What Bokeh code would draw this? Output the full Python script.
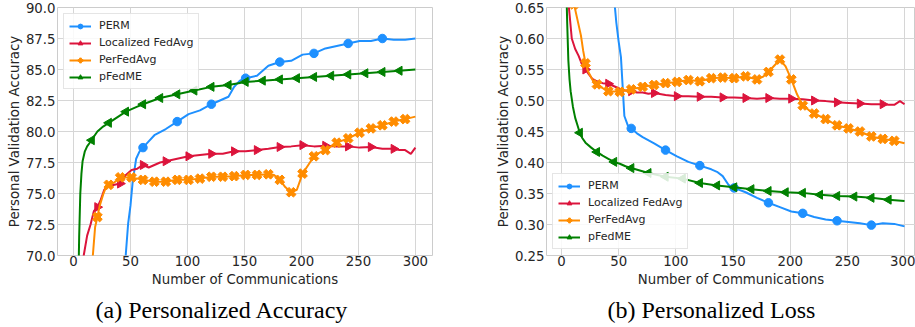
import math
from bokeh.plotting import figure
from bokeh.layouts import row
from bokeh.models import FixedTicker, NumeralTickFormatter, Title, Range1d
from bokeh.embed import file_html
from bokeh.resources import INLINE

# ---------------- data ----------------
X_PERM = [1, 11, 21, 31, 41, 44, 46, 48, 50, 52, 55, 58, 61, 66, 71, 81, 91, 101, 111, 121,
          131, 136, 141, 146, 151, 161, 171, 181, 191, 201, 211, 221, 231, 241, 251, 261, 271, 281, 291, 300]
ACC_PERM = [10.0, 25.0, 40.0, 52.0, 62.0, 67.0, 70.2, 72.6, 74.0, 76.0, 77.8, 78.4, 78.7, 79.2, 79.7, 80.2, 80.8, 81.4, 81.7, 82.2,
            82.6, 82.8, 83.6, 84.1, 84.3, 84.5, 85.3, 85.6, 85.7, 86.2, 86.3, 86.7, 86.9, 87.1, 87.3, 87.3, 87.5, 87.4, 87.4, 87.5]
LOSS_PERM = [2.3, 1.9, 1.5, 1.2, 0.9, 0.75, 0.665, 0.625, 0.595, 0.57, 0.475, 0.46, 0.455, 0.447, 0.441, 0.431, 0.42, 0.41, 0.401, 0.395,
             0.389, 0.385, 0.378, 0.364, 0.359, 0.352, 0.343, 0.335, 0.328, 0.321, 0.318, 0.312, 0.308, 0.306, 0.304, 0.302, 0.299, 0.302, 0.301, 0.297]

X_LFA = [1, 5, 9, 12, 15, 18, 21, 24, 27, 31, 36, 41, 46, 51, 56, 61, 66, 71, 76, 81, 91, 101, 111, 121,
         131, 141, 151, 161, 171, 181, 191, 201, 211, 221, 231, 241, 251, 261, 271, 281, 286, 291, 296, 300]
ACC_LFA = [40.0, 60.0, 70.0, 71.6, 72.5, 73.6, 73.9, 74.5, 75.3, 75.6, 75.7, 75.8, 76.5, 76.9, 77.0, 77.3, 77.1, 77.3, 77.5, 77.6,
           77.8, 78.0, 78.1, 78.2, 78.2, 78.4, 78.4, 78.5, 78.6, 78.75, 78.8, 78.9, 78.8, 78.85, 78.8, 78.8, 78.7, 78.75, 78.6, 78.6,
           78.5, 78.5, 78.2, 78.7]
LOSS_LFA = [2.3, 0.68, 0.60, 0.583, 0.572, 0.558, 0.55, 0.542, 0.535, 0.531, 0.528, 0.527, 0.523, 0.519, 0.516, 0.515, 0.513, 0.513,
            0.511, 0.512, 0.509, 0.507, 0.507, 0.506, 0.506, 0.505, 0.505, 0.504, 0.503, 0.504, 0.503, 0.503, 0.502, 0.500, 0.499,
            0.497, 0.496, 0.495, 0.494, 0.494, 0.493, 0.493, 0.499, 0.494]

X_PFA = [1, 6, 11, 14, 17, 19, 21, 23, 26, 28, 31, 36, 41, 51, 61, 71, 81, 91, 101, 111, 121, 131, 141, 151,
         161, 171, 176, 181, 186, 191, 196, 201, 206, 211, 216, 221, 231, 241, 251, 261, 271, 281, 291, 300]
ACC_PFA = [20.0, 45.0, 60.0, 66.0, 70.0, 72.3, 73.1, 74.0, 74.9, 75.4, 75.7, 75.9, 76.3, 76.3, 76.1, 75.95, 75.95, 76.1, 76.1, 76.2,
           76.35, 76.35, 76.4, 76.5, 76.5, 76.55, 76.5, 76.1, 75.5, 75.1, 75.3, 76.6, 77.3, 78.0, 78.3, 78.5, 79.1, 79.45, 79.9,
           80.25, 80.5, 80.8, 81.0, 81.2]
LOSS_PFA = [2.3, 1.0, 0.655, 0.63, 0.605, 0.58, 0.56, 0.548, 0.537, 0.53, 0.526, 0.52, 0.515, 0.514, 0.518, 0.522, 0.525, 0.528,
            0.53, 0.533, 0.531, 0.536, 0.537, 0.536, 0.539, 0.534, 0.538, 0.546, 0.556, 0.566, 0.555, 0.534, 0.51, 0.492, 0.485,
            0.479, 0.47, 0.46, 0.455, 0.45, 0.442, 0.438, 0.435, 0.431]

X_PFME = [1, 2, 3, 4, 5, 6, 7, 8, 10, 12, 14, 16, 18, 21, 26, 31, 36, 41, 46, 51, 56, 61, 76, 91, 106, 121,
          136, 151, 166, 181, 196, 211, 226, 241, 256, 271, 286, 300]
ACC_PFME = [20.0, 35.0, 50.0, 66.0, 71.5, 75.0, 76.6, 77.6, 78.4, 78.8, 79.05, 79.3, 79.6, 80.0, 80.4, 80.7, 81.0, 81.3, 81.6,
            81.8, 82.0, 82.2, 82.7, 83.0, 83.3, 83.6, 83.75, 84.0, 84.1, 84.2, 84.3, 84.4, 84.5, 84.6, 84.7, 84.8, 84.9, 85.0]
LOSS_PFME = [2.3, 1.5, 1.0, 0.70, 0.625, 0.565, 0.535, 0.515, 0.49, 0.472, 0.46, 0.448, 0.44, 0.432, 0.424, 0.417, 0.411,
             0.406, 0.401, 0.398, 0.394, 0.391, 0.383, 0.377, 0.374, 0.367, 0.363, 0.36, 0.357, 0.354, 0.352, 0.351, 0.348,
             0.346, 0.345, 0.343, 0.34, 0.338]

METHODS = ["PERM", "Localized FedAvg", "PerFedAvg", "pFedME"]
X_TICKS = [0, 50, 100, 150, 200, 250, 300]
ACC_TICKS = [70.0, 72.5, 75.0, 77.5, 80.0, 82.5, 85.0, 87.5, 90.0]
LOSS_TICKS = [0.25, 0.30, 0.35, 0.40, 0.45, 0.50, 0.55, 0.60, 0.65]

# name, x, acc, loss, colour, marker, angle, marker every, size
SERIES = [
    (METHODS[0], X_PERM, ACC_PERM, LOSS_PERM, "#1E90FF", "circle", 0.0, 30, 8.5),
    (METHODS[1], X_LFA, ACC_LFA, LOSS_LFA, "#DC143C", "triangle", -math.pi / 2, 20, 9),
    (METHODS[2], X_PFA, ACC_PFA, LOSS_PFA, "#FF8C00", "plus", math.pi / 4, 10, 10),
    (METHODS[3], X_PFME, ACC_PFME, LOSS_PFME, "#008000", "triangle", math.pi / 2, 15, 9),
]

TEXT = "#262626"
FONT = "DejaVu Sans"


def build(which, width, bl, br, xr, yr, yticks, yfmt, caption, cap_offset, legend_loc):
    p = figure(width=width, height=327, x_range=Range1d(*xr), y_range=Range1d(*yr),
               output_backend="svg", toolbar_location=None, title=None,
               min_border_left=bl, min_border_right=br, min_border_top=7, min_border_bottom=71)
    p.background_fill_color = "white"
    p.border_fill_color = "white"
    p.outline_line_color = "#cccccc"
    p.outline_line_width = 1

    for name, xs, acc, loss, color, marker, ang, step, size in SERIES:
        ys = acc if which == "acc" else loss
        p.line(xs, ys, line_color=color, line_width=2, legend_label=name)
        mx = [x for x in xs if (x - 1) % step == 0]
        my = [y for x, y in zip(xs, ys) if (x - 1) % step == 0]
        p.scatter(mx, my, marker=marker, angle=ang, size=size, fill_color=color,
                  line_color=color, legend_label=name)

    for ax in (p.xaxis[0], p.yaxis[0]):
        ax.axis_line_color = None
        ax.major_tick_line_color = None
        ax.minor_tick_line_color = None
        ax.major_tick_out = 0
        ax.major_tick_in = 0
        ax.minor_tick_out = 0
        ax.minor_tick_in = 0
        ax.major_label_text_font = FONT
        ax.major_label_text_font_size = "13.3px"
        ax.major_label_text_color = TEXT
        ax.axis_label_text_font = FONT
        ax.axis_label_text_font_size = "13.3px"
        ax.axis_label_text_font_style = "normal"
        ax.axis_label_text_color = TEXT
    p.xaxis[0].major_label_standoff = 0
    p.xaxis[0].axis_label_standoff = 3
    p.yaxis[0].major_label_standoff = 2
    p.yaxis[0].axis_label_standoff = 1
    p.xaxis.ticker = FixedTicker(ticks=X_TICKS)
    p.yaxis.ticker = FixedTicker(ticks=yticks)
    p.yaxis.formatter = NumeralTickFormatter(format=yfmt)
    p.xaxis.axis_label = "Number of Communications"
    p.yaxis.axis_label = "Personal Validation Accuracy"
    p.grid.grid_line_color = "#d6d6d6"
    p.grid.grid_line_width = 1

    lg = p.legend[0]
    lg.location = legend_loc
    lg.margin = 6
    lg.padding = 5
    lg.spacing = 4
    lg.label_height = 12
    lg.glyph_height = 12
    lg.glyph_width = 22
    lg.label_standoff = 8
    lg.label_text_font = FONT
    lg.label_text_font_size = "11px"
    lg.label_text_color = TEXT
    lg.border_line_color = "#cccccc"
    lg.border_line_width = 1
    lg.background_fill_alpha = 0.85

    cap = Title(text=caption, align="left", offset=cap_offset, text_font="Liberation Serif",
                text_font_size="24px", text_font_style="normal", text_color="black", standoff=10)
    p.add_layout(cap, "below")
    return p


p1 = build("acc", 457, 57, 25, (-14.0, 315.0), (70.0, 90.0), ACC_TICKS, "0.0",
           "(a) Personalized Accuracy", 38, "top_left")
p2 = build("loss", 458, 89, 0, (-13.1, 309.6), (0.25, 0.65), LOSS_TICKS, "0.00",
           "(b) Personalized Loss", 61, "bottom_left")

layout = row(p1, p2)
open("out.html", "w").write(file_html(layout, INLINE))
